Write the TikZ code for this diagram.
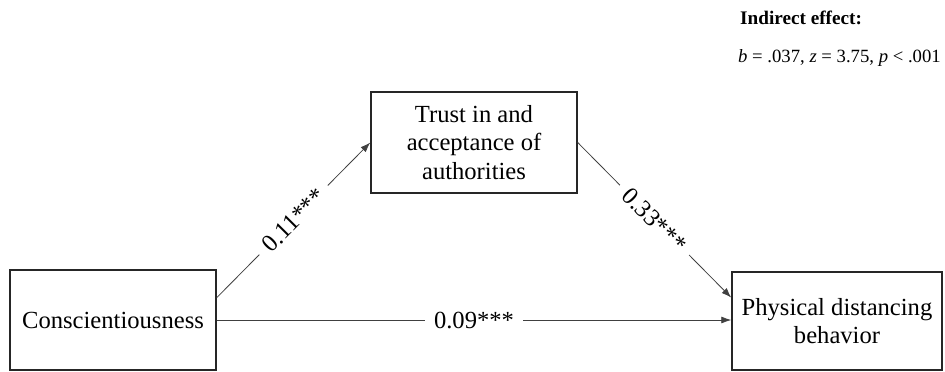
\documentclass[tikz,border=0pt]{standalone}
\usepackage{fontspec}
\setmainfont{Liberation Serif}
\usetikzlibrary{arrows.meta,calc}
\begin{document}
\begin{tikzpicture}[x=1pt,y=-1pt,
  box/.style={draw=black!85,line width=1.4pt,inner sep=0pt,align=center,
    font=\fontsize{24.6}{28.5}\selectfont},
  conn/.style={draw=black!75,line width=0.8pt,-{Latex[length=10pt,width=7pt]}},
  lab/.style={fill=white,inner xsep=9pt,inner ysep=2pt,font=\fontsize{24.6}{28.5}\selectfont}]
\useasboundingbox (0,0) rectangle (945,372);
\node[box,minimum width=206pt,minimum height=100pt] (consc) at (113,320) {Conscientiousness};
\node[box,minimum width=206pt,minimum height=101pt] (trust) at (474,142.5) {Trust in and\\acceptance of\\authorities};
\node[box,minimum width=210pt,minimum height=98pt] (phys) at (837,321) {Physical distancing\\behavior};
\coordinate (cs) at ($(consc.north east)!0.28!(consc.south east)$);
\coordinate (pe) at ($(phys.north west)!0.265!(phys.south west)$);
\draw[conn] (cs) -- node[lab,sloped] {0.11***} (trust.west);
\draw[conn] (trust.east) -- node[lab,sloped] {0.33***} (pe);
\draw[conn] (consc.east) -- node[lab] {0.09***} (phys.west |- consc.east);
\node[anchor=base west,inner sep=0pt,font=\fontsize{19.2}{22}\selectfont\bfseries] (ind) at (740,24) {Indirect effect:};
\node[anchor=base west,inner sep=0pt,font=\fontsize{18.7}{22}\selectfont] (stats) at (738,62) {\textit{b} = .037, \textit{z} = 3.75, \textit{p} < .001};
\end{tikzpicture}
\end{document}
